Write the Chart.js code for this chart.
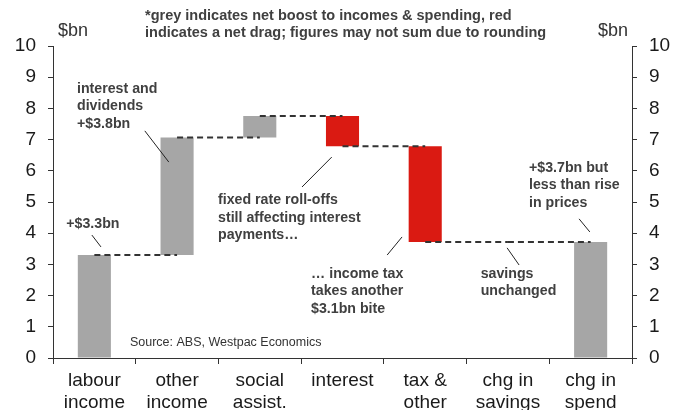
<!DOCTYPE html>
<html>
<head>
<meta charset="utf-8">
<script src="https://cdn.jsdelivr.net/npm/chart.js@4.4.0/dist/chart.umd.min.js"></script>
<style>
  html, body { margin: 0; padding: 0; background: #fff; }
  #wrap { width: 683px; height: 410px; position: relative; }
</style>
</head>
<body>
<div id="wrap"><canvas id="waterfall"></canvas></div>
<script>
// categories and waterfall values ($bn)
const categories = [['labour', 'income'], ['other', 'income'], ['social', 'assist.'], 'interest', ['tax &', 'other'], ['chg in', 'savings'], ['chg in', 'spend']];
const barLow = [0, 3.3, 7.07, 6.79, 3.72, null, 0];
const barHigh = [3.3, 7.07, 7.76, 7.76, 6.79, null, 3.72];
const isDrag = [false, false, false, true, true, false, false];
// dashed connector level from bar i to bar i+1
const connectorLevels = [3.3, 7.07, 7.76, 6.79, 3.72, 3.72];
const yMin = 0, yMax = 10, yStep = 1;

const noteLines = [
  '*grey indicates net boost to incomes & spending, red',
  'indicates a net drag; figures may not sum due to rounding'
];

// callouts, placed in data units (category index, $bn)
const callouts = [
  { lines: ['+$3.3bn'], x: -0.34, y: 4.29, lead: [-0.03, 3.94, 0.08, 3.56] },
  { lines: ['interest and', 'dividends', '+$3.8bn'], x: -0.21, y: 8.62, lead: [0.61, 7.28, 0.90, 6.28] },
  { lines: ['fixed rate roll-offs', 'still affecting interest', 'payments\u2026'], x: 1.495, y: 5.06, lead: [2.87, 6.44, 2.51, 5.48] },
  { lines: ['\u2026 income tax', 'takes another', '$3.1bn bite'], x: 2.62, y: 2.69, lead: [3.72, 3.88, 3.54, 3.30] },
  { lines: ['savings', 'unchanged'], x: 4.67, y: 2.69, lead: [4.99, 3.53, 5.135, 2.98] },
  { lines: ['+$3.7bn but', 'less than rise', 'in prices'], x: 5.255, y: 6.09, lead: [5.86, 4.46, 5.99, 4.04] }
];

const GREY = '#a6a6a6';
const RED = '#da1a12';
const AXIS = '#333333';
const FONT = '"Liberation Sans", Arial, sans-serif';

const barData = barLow.map((lo, i) => (lo === null ? null : [lo, barHigh[i]]));

const connectorSets = connectorLevels.map((lvl, i) => ({
  type: 'line',
  data: categories.map((_, j) => (j === i || j === i + 1 ? lvl : null)),
  borderColor: '#333',
  borderWidth: 2,
  borderDash: [6, 4],
  pointRadius: 0,
  fill: false,
  spanGaps: false,
  order: 1
}));

const annotate = {
  id: 'annotate',
  afterDatasetsDraw(chart) {
    const c = chart.ctx, x = chart.scales.x, y = chart.scales.y;
    c.save();
    // units labels and note
    c.fillStyle = '#333';
    c.font = '18px ' + FONT;
    c.textBaseline = 'middle';
    c.textAlign = 'left';
    c.fillText('$bn', 58, 31);
    c.textAlign = 'right';
    c.fillText('$bn', 628, 31);
    c.textAlign = 'left';
    c.fillStyle = '#404040';
    c.font = 'bold 14.5px ' + FONT;
    noteLines.forEach((t, i) => c.fillText(t, 145, 16 + i * 17));
    // callouts
    c.font = 'bold 14.2px ' + FONT;
    callouts.forEach(a => {
      const px = x.getPixelForValue(a.x), py = y.getPixelForValue(a.y);
      a.lines.forEach((t, i) => c.fillText(t, px, py + i * 17.5));
      c.beginPath();
      c.strokeStyle = '#222';
      c.lineWidth = 1;
      c.moveTo(x.getPixelForValue(a.lead[0]), y.getPixelForValue(a.lead[1]));
      c.lineTo(x.getPixelForValue(a.lead[2]), y.getPixelForValue(a.lead[3]));
      c.stroke();
    });
    // source
    c.fillStyle = '#333';
    c.font = '12.5px ' + FONT;
    c.fillText('Source: ABS, Westpac Economics', x.getPixelForValue(0.43), y.getPixelForValue(0.51));
    c.restore();
  }
};

const yAxisCommon = {
  min: yMin,
  max: yMax,
  ticks: { stepSize: yStep, color: '#1a1a1a', font: { family: FONT, size: 19 }, padding: 12 },
  grid: { drawOnChartArea: false, tickLength: 5, color: AXIS },
  border: { display: true, color: AXIS }
};

new Chart(document.getElementById('waterfall'), {
  type: 'bar',
  data: {
    labels: categories,
    datasets: [
      {
        data: barData,
        backgroundColor: isDrag.map(d => (d ? RED : GREY)),
        borderWidth: 0,
        barPercentage: 0.4,
        categoryPercentage: 1,
        order: 2
      },
      ...connectorSets
    ]
  },
  options: {
    responsive: true,
    maintainAspectRatio: false,
    animation: false,
    layout: { padding: { top: 46, left: 0, right: 0, bottom: 0 } },
    plugins: { legend: { display: false }, tooltip: { enabled: false } },
    scales: {
      x: {
        ticks: { color: '#1a1a1a', font: { family: FONT, size: 19 }, padding: 5, maxRotation: 0, autoSkip: false },
        grid: { offset: true, drawOnChartArea: false, tickLength: 6, color: AXIS },
        border: { display: true, color: AXIS },
        afterFit(s) { s.height = 52; }
      },
      y: Object.assign({}, yAxisCommon, { position: 'left', afterFit(s) { s.width = 53; } }),
      y2: Object.assign({}, yAxisCommon, { position: 'right', afterFit(s) { s.width = 51; } })
    }
  },
  plugins: [annotate]
});
</script>
</body>
</html>
